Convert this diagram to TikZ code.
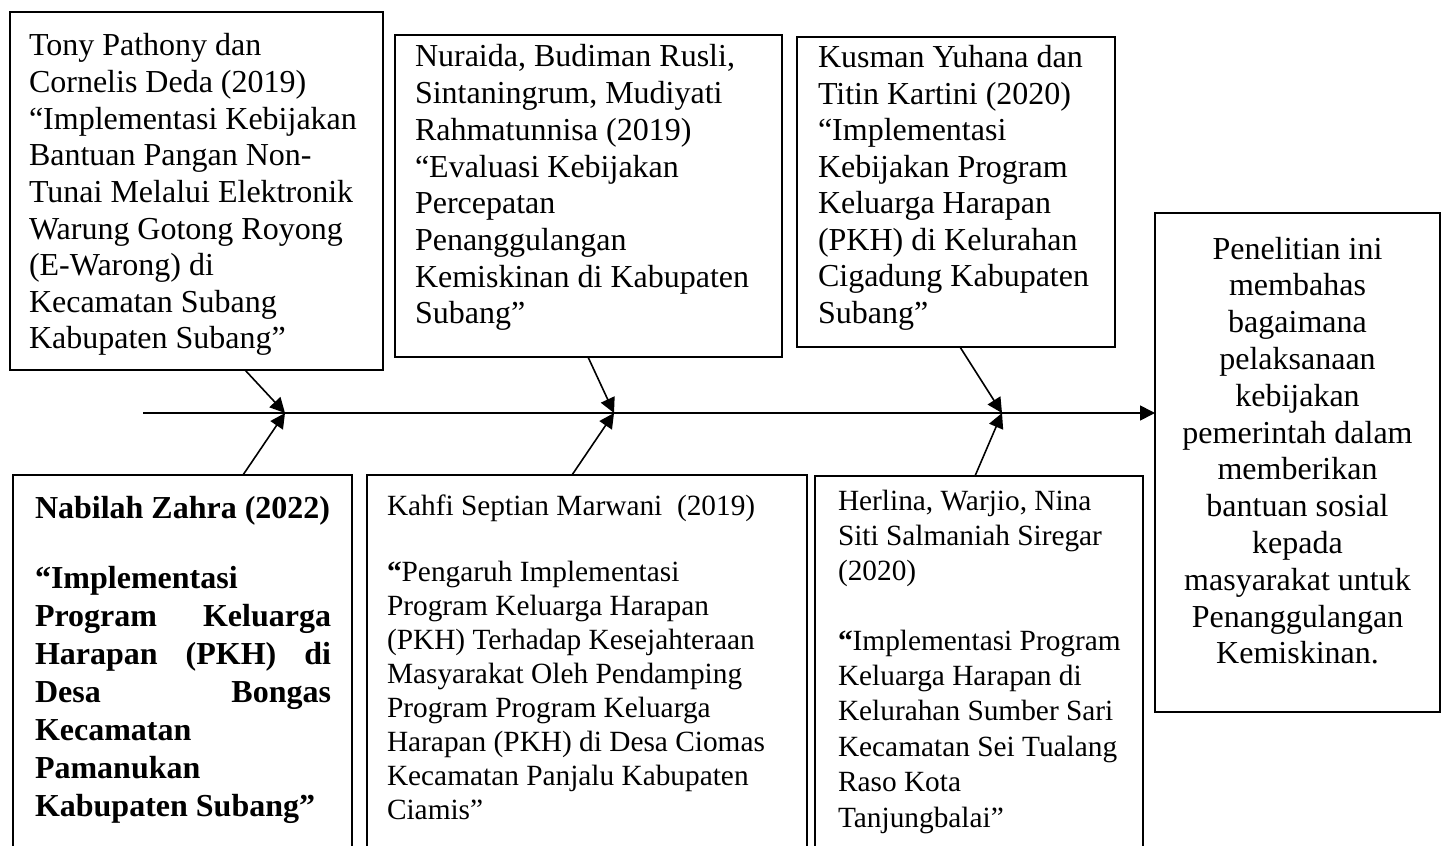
\documentclass[tikz,border=0pt]{standalone}
\usepackage{fontspec}
\setmainfont{Liberation Serif}
\usetikzlibrary{arrows.meta,calc}
\newcommand\jline[1]{\leavevmode\hbox to 111pt{#1}}
\begin{document}
\begin{tikzpicture}[x=0.375pt,y=-0.375pt,
  box/.style={draw,line width=0.75pt,rectangle,inner sep=0pt,outer sep=0pt},
  txt/.style={inner sep=0pt,outer sep=0pt,anchor=base west,align=flush left},
  conn/.style={line width=0.6pt,-{Triangle[length=5.6pt,width=5.6pt]}},
]
\clip (0,0) rectangle (1443,845);
\fill[white] (0,0) rectangle (1443,845);

% boxes
\node[box,minimum width=373*0.375pt,minimum height=358*0.375pt] (b1) at (196.5,191) {};
\node[box,minimum width=387*0.375pt,minimum height=322*0.375pt] (b2) at (588.5,196) {};
\node[box,minimum width=318*0.375pt,minimum height=310*0.375pt] (b3) at (956,192) {};
\node[box,minimum width=285*0.375pt,minimum height=499*0.375pt] (rb) at (1297.5,462.5) {};
\node[box,minimum width=339*0.375pt,minimum height=405*0.375pt] (B1) at (182.5,677.5) {};
\node[box,minimum width=440*0.375pt,minimum height=405*0.375pt] (B2) at (587,677.5) {};
\node[box,minimum width=328*0.375pt,minimum height=404*0.375pt] (B3) at (979,678) {};

% texts
\node[txt,text width=140pt,font={\fontsize{12pt}{13.73pt}\selectfont}] (t1) at (29,56)
 {Tony Pathony dan\\Cornelis Deda (2019)\\“Implementasi Kebijakan\\Bantuan Pangan Non-\\Tunai Melalui Elektronik\\Warung Gotong Royong\\(E-Warong) di\\Kecamatan Subang\\Kabupaten Subang”};
\node[txt,text width=140pt,font={\fontsize{12pt}{13.76pt}\selectfont}] (t2) at (415,67)
 {Nuraida, Budiman Rusli,\\Sintaningrum, Mudiyati\\Rahmatunnisa (2019)\\“Evaluasi Kebijakan\\Percepatan\\Penanggulangan\\Kemiskinan di Kabupaten\\Subang”};
\node[txt,text width=120pt,font={\fontsize{12pt}{13.68pt}\selectfont}] (t3) at (818,68)
 {Kusman Yuhana dan\\Titin Kartini (2020)\\“Implementasi\\Kebijakan Program\\Keluarga Harapan\\(PKH) di Kelurahan\\Cigadung Kabupaten\\Subang”};
\node[txt,anchor=base,align=flush center,text width=100pt,font={\fontsize{12pt}{13.8pt}\selectfont}] (tr) at (1297.5,259)
 {Penelitian ini\\membahas\\bagaimana\\pelaksanaan\\kebijakan\\pemerintah dalam\\memberikan\\bantuan sosial\\kepada\\masyarakat untuk\\Penanggulangan\\Kemiskinan.};
\node[txt,text width=125pt,font={\fontsize{12pt}{14.2pt}\selectfont\bfseries}] (T1) at (35,518)
 {Nabilah Zahra (2022)\\[12.4pt]“Implementasi\\\jline{Program\hfill Keluarga}\\\jline{Harapan\hfill (PKH)\hfill di}\\\jline{Desa\hfill Bongas}\\Kecamatan\\Pamanukan\\Kabupaten Subang”};
\node[txt,text width=160pt,font={\fontsize{11pt}{12.75pt}\selectfont}] (T2) at (387,515)
 {Kahfi Septian Marwani~ (2019)\\[12.3pt]{\bfseries “}Pengaruh Implementasi\\Program Keluarga Harapan\\(PKH) Terhadap Kesejahteraan\\Masyarakat Oleh Pendamping\\Program Program Keluarga\\Harapan (PKH) di Desa Ciomas\\Kecamatan Panjalu Kabupaten\\Ciamis”};
\node[txt,text width=120pt,font={\fontsize{11pt}{13.3pt}\selectfont}] (T3) at (838,510)
 {Herlina, Warjio, Nina\\Siti Salmaniah Siregar\\(2020)\\[12.6pt]{\bfseries “}Implementasi Program\\Keluarga Harapan di\\Kelurahan Sumber Sari\\Kecamatan Sei Tualang\\Raso Kota\\Tanjungbalai”};

% spine and connectors
\coordinate (s) at (143,413);
\coordinate (j1) at (285,413);
\coordinate (j2) at (614,413);
\coordinate (j3) at (1002,413);
\coordinate (a1) at ($(b1.south west)+(235,0)$);
\coordinate (a2) at ($(b2.south west)+(193,0)$);
\coordinate (a3) at ($(b3.south west)+(163,0)$);
\coordinate (c1) at ($(B1.north west)+(230,0)$);
\coordinate (c2) at ($(B2.north west)+(205,0)$);
\coordinate (c3) at ($(B3.north west)+(160,0)$);

\draw[conn] (s) -- (s -| rb.west);
\draw[conn] (a1) -- (j1);
\draw[conn] (c1) -- (j1);
\draw[conn] (a2) -- (j2);
\draw[conn] (c2) -- (j2);
\draw[conn] (a3) -- (j3);
\draw[conn] (c3) -- (j3);
\end{tikzpicture}
\end{document}
